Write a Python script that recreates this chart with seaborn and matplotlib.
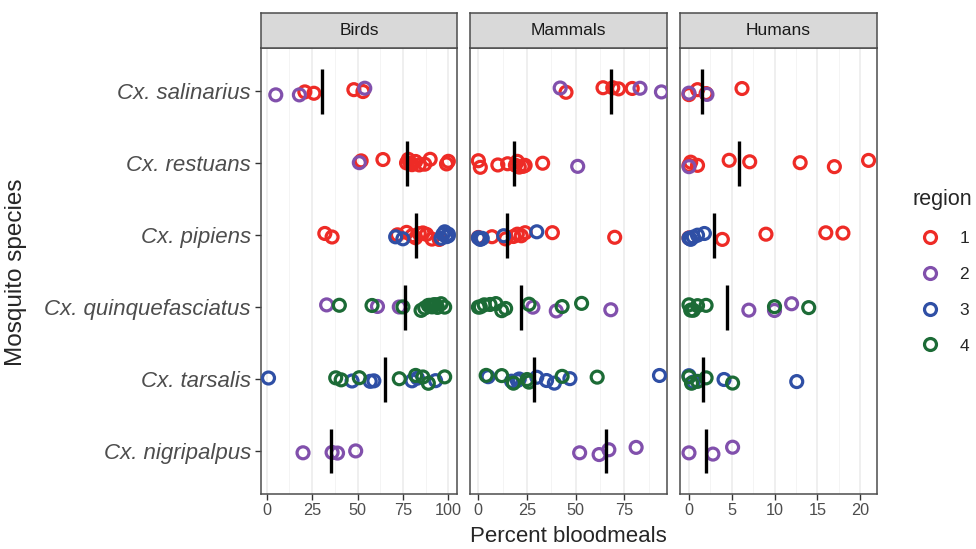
import numpy as np
import pandas as pd
import matplotlib
matplotlib.use("Agg")
import matplotlib.pyplot as plt
from matplotlib.lines import Line2D
from matplotlib.ticker import MultipleLocator
import seaborn as sns

# -----------------------------
# Data
# -----------------------------
species = ["Cx. salinarius", "Cx. restuans", "Cx. pipiens",
           "Cx. quinquefasciatus", "Cx. tarsalis", "Cx. nigripalpus"]
hosts = ["Birds", "Mammals", "Humans"]
regions = ["1", "2", "3", "4"]
region_colors = ["#EE2B26", "#8150AC", "#2F4FA5", "#1C6B36"]

# percent bloodmeals per species -> region -> values
birds = {
    "Cx. salinarius": {"1": [21, 26, 48, 53], "2": [5, 18, 54]},
    "Cx. restuans": {"1": [52, 64, 77, 78, 79, 80, 82, 84, 87, 90, 99, 100], "2": [51]},
    "Cx. pipiens": {"1": [32, 36, 72, 77, 80, 82, 84, 86, 88, 91, 95],
                    "3": [71, 75, 96, 97, 98, 99, 100, 100]},
    "Cx. quinquefasciatus": {"2": [33, 61, 73],
                             "4": [40, 58, 75, 85, 87, 89, 90, 91, 92, 93, 94, 96, 98]},
    "Cx. tarsalis": {"3": [1, 47, 57, 59, 80, 83, 93],
                     "4": [38, 41, 51, 73, 82, 86, 89, 98]},
    "Cx. nigripalpus": {"2": [20, 36, 39, 49]},
}
mammals = {
    "Cx. salinarius": {"1": [45, 64, 69, 72, 79], "2": [42, 83, 94]},
    "Cx. restuans": {"1": [0, 1, 10, 15, 19, 20, 21, 23, 24, 33], "2": [51]},
    "Cx. pipiens": {"1": [0, 7, 14, 18, 20, 22, 24, 38, 70], "3": [0, 1, 2, 13, 30]},
    "Cx. quinquefasciatus": {"2": [28, 40, 68], "4": [0, 1, 3, 6, 9, 12, 14, 26, 43, 53]},
    "Cx. tarsalis": {"3": [5, 17, 20, 21, 30, 35, 39, 47, 93],
                     "4": [4, 12, 18, 25, 26, 43, 61]},
    "Cx. nigripalpus": {"2": [52, 62, 67, 81]},
}
humans = {
    "Cx. salinarius": {"1": [0, 1, 2, 6.2], "2": [0, 2.1]},
    "Cx. restuans": {"1": [0, 0.2, 1, 4.7, 7.1, 13, 17, 21], "2": [0]},
    "Cx. pipiens": {"1": [0, 3.9, 9, 16, 18], "3": [0, 0.2, 0.5, 1, 1.8]},
    "Cx. quinquefasciatus": {"2": [7, 10, 12], "4": [0, 0.2, 0.5, 1, 2, 10, 14]},
    "Cx. tarsalis": {"3": [0, 0.5, 4.1, 12.6], "4": [0, 0.3, 1, 2, 5.1]},
    "Cx. nigripalpus": {"2": [0, 2.8, 5.1]},
}
# mean bars per species, same order as `species`
means_birds = [30.5, 77.5, 82, 76, 65, 35.5]
means_mammals = [68, 18.5, 14.5, 22, 28.5, 65.5]
means_humans = [1.5, 5.85, 2.95, 4.4, 1.6, 2.0]

xlims = {"Birds": (-3.3, 105), "Mammals": (-4.3, 96.7), "Humans": (-1.05, 21.95)}
xticks = {"Birds": [0, 25, 50, 75, 100], "Mammals": [0, 25, 50, 75],
          "Humans": [0, 5, 10, 15, 20]}

panel_data = {"Birds": birds, "Mammals": mammals, "Humans": humans}
panel_means = {"Birds": means_birds, "Mammals": means_mammals, "Humans": means_humans}

rows = []
for host, d in panel_data.items():
    for sp, by_region in d.items():
        for reg, vals in by_region.items():
            for v in vals:
                rows.append({"host": host, "species": sp, "region": reg, "pct": v})
df = pd.DataFrame(rows)

# -----------------------------
# Plot
# -----------------------------
sns.set_theme(style="white")
plt.rcParams["font.family"] = ["Liberation Sans", "DejaVu Sans"]
np.random.seed(3)

W, H = 976, 549
fig = plt.figure(figsize=(W / 100, H / 100), dpi=100)
palette = dict(zip(regions, region_colors))

lefts = [260.7, 470.0, 680.0]
pw = 196.7
top_px, bot_px = 48.3, 494.3
strip_top = 12.7

for i, host in enumerate(hosts):
    ax = fig.add_axes([lefts[i] / W, 1 - bot_px / H, pw / W, (bot_px - top_px) / H])
    sub = df[df["host"] == host]

    # grid
    step = xticks[host][1] - xticks[host][0]
    ax.xaxis.set_major_locator(MultipleLocator(step))
    ax.xaxis.set_minor_locator(MultipleLocator(step / 2))
    ax.grid(which="major", axis="both", color="#EBEBEB", lw=1.1, zorder=0)
    ax.grid(which="minor", axis="x", color="#F2F2F2", lw=0.6, zorder=0)
    ax.set_axisbelow(True)

    sns.stripplot(data=sub, x="pct", y="species", hue="region", order=species,
                  hue_order=regions, palette=palette, jitter=0.06, size=8.6,
                  linewidth=2.3, orient="h", legend=False, ax=ax, zorder=3)
    # hollow circles
    for coll in ax.collections:
        fc = coll.get_facecolors()
        coll.set_edgecolors(fc)
        coll.set_facecolors("none")
        coll.set_linewidths(2.3)

    idx = np.arange(len(species))
    ax.vlines(panel_means[host], idx - 0.31, idx + 0.31, color="black", lw=2.4, zorder=4)

    ax.set_xlim(*xlims[host])
    ax.set_ylim(5.6, -0.6)
    ax.set_xticks(xticks[host])
    ax.set_xticklabels([str(t) for t in xticks[host]])
    ax.set_xlabel("")
    ax.set_ylabel("")
    ax.tick_params(axis="x", which="major", length=4, width=1, color="#333333",
                   labelsize=11.7, labelcolor="#4D4D4D", pad=2, bottom=True)
    ax.tick_params(axis="x", which="minor", length=0)
    if i == 0:
        ax.tick_params(axis="y", length=4, width=1, color="#333333", labelsize=16,
                       labelcolor="#4D4D4D", pad=3, left=True)
        for lab in ax.get_yticklabels():
            lab.set_fontstyle("italic")
    else:
        ax.tick_params(axis="y", length=0, labelleft=False)
    for s in ax.spines.values():
        s.set_color("#4D4D4D")
        s.set_linewidth(1.1)
        s.set_visible(True)

    # facet strip
    sax = fig.add_axes([lefts[i] / W, 1 - top_px / H, pw / W, (top_px - strip_top) / H])
    sax.set_facecolor("#D9D9D9")
    sax.set_xticks([])
    sax.set_yticks([])
    for s in sax.spines.values():
        s.set_color("#4D4D4D")
        s.set_linewidth(1.1)
    sax.text(0.5, 0.5, host, ha="center", va="center", fontsize=12.5,
             color="#1A1A1A", transform=sax.transAxes)

fig.text((260.7 + 876.7) / 2 / W, 1 - 537 / H, "Percent bloodmeals",
         ha="center", va="center", fontsize=16)
fig.text(16 / W, 1 - 272 / H, "Mosquito species", ha="center", va="center",
         rotation=90, fontsize=17.5)

handles = [Line2D([], [], ls="", marker="o", markersize=8.6, markerfacecolor="none",
                  markeredgecolor=c, markeredgewidth=2.3) for c in region_colors]
fig.legend(handles, regions, title="region", loc="upper left",
           bbox_to_anchor=(897 / W, 1 - 173 / H), frameon=False, fontsize=12.5,
           title_fontsize=15.5, labelspacing=1.2, handletextpad=0.7,
           handlelength=2.0, alignment="left")

fig.savefig("out.png", dpi=100)
